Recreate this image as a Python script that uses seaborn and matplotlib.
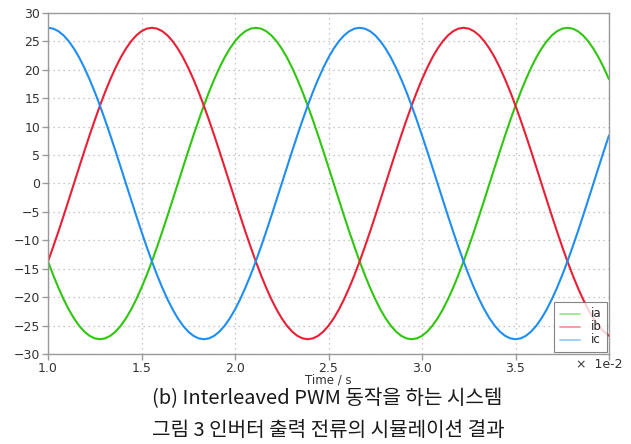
import matplotlib
matplotlib.use("Agg")
import matplotlib.pyplot as plt
import numpy as np
import pandas as pd
import seaborn as sns

# time axis in units of 1e-2 s, sampled every 6 degrees of the 60 Hz cycle
time = np.linspace(1.0, 4.0, 109)

ia = [-13.70, -16.11, -18.33, -20.36, -22.17, -23.73, -25.03, -26.06, -26.80, -27.25,
      -27.40, -27.25, -26.80, -26.06, -25.03, -23.73, -22.17, -20.36, -18.33, -16.11,
      -13.70, -11.14, -8.47, -5.70, -2.86, 0.00, 2.86, 5.70, 8.47, 11.14,
      13.70, 16.11, 18.33, 20.36, 22.17, 23.73, 25.03, 26.06, 26.80, 27.25,
      27.40, 27.25, 26.80, 26.06, 25.03, 23.73, 22.17, 20.36, 18.33, 16.11,
      13.70, 11.14, 8.47, 5.70, 2.86, 0.00, -2.86, -5.70, -8.47, -11.14,
      -13.70, -16.11, -18.33, -20.36, -22.17, -23.73, -25.03, -26.06, -26.80, -27.25,
      -27.40, -27.25, -26.80, -26.06, -25.03, -23.73, -22.17, -20.36, -18.33, -16.11,
      -13.70, -11.14, -8.47, -5.70, -2.86, 0.00, 2.86, 5.70, 8.47, 11.14,
      13.70, 16.11, 18.33, 20.36, 22.17, 23.73, 25.03, 26.06, 26.80, 27.25,
      27.40, 27.25, 26.80, 26.06, 25.03, 23.73, 22.17, 20.36, 18.33]

ib = [-13.70, -11.14, -8.47, -5.70, -2.86, 0.00, 2.86, 5.70, 8.47, 11.14,
      13.70, 16.11, 18.33, 20.36, 22.17, 23.73, 25.03, 26.06, 26.80, 27.25,
      27.40, 27.25, 26.80, 26.06, 25.03, 23.73, 22.17, 20.36, 18.33, 16.11,
      13.70, 11.14, 8.47, 5.70, 2.86, 0.00, -2.86, -5.70, -8.47, -11.14,
      -13.70, -16.11, -18.33, -20.36, -22.17, -23.73, -25.03, -26.06, -26.80, -27.25,
      -27.40, -27.25, -26.80, -26.06, -25.03, -23.73, -22.17, -20.36, -18.33, -16.11,
      -13.70, -11.14, -8.47, -5.70, -2.86, 0.00, 2.86, 5.70, 8.47, 11.14,
      13.70, 16.11, 18.33, 20.36, 22.17, 23.73, 25.03, 26.06, 26.80, 27.25,
      27.40, 27.25, 26.80, 26.06, 25.03, 23.73, 22.17, 20.36, 18.33, 16.11,
      13.70, 11.14, 8.47, 5.70, 2.86, 0.00, -2.86, -5.70, -8.47, -11.14,
      -13.70, -16.11, -18.33, -20.36, -22.17, -23.73, -25.03, -26.06, -26.80]

ic = [27.40, 27.25, 26.80, 26.06, 25.03, 23.73, 22.17, 20.36, 18.33, 16.11,
      13.70, 11.14, 8.47, 5.70, 2.86, 0.00, -2.86, -5.70, -8.47, -11.14,
      -13.70, -16.11, -18.33, -20.36, -22.17, -23.73, -25.03, -26.06, -26.80, -27.25,
      -27.40, -27.25, -26.80, -26.06, -25.03, -23.73, -22.17, -20.36, -18.33, -16.11,
      -13.70, -11.14, -8.47, -5.70, -2.86, 0.00, 2.86, 5.70, 8.47, 11.14,
      13.70, 16.11, 18.33, 20.36, 22.17, 23.73, 25.03, 26.06, 26.80, 27.25,
      27.40, 27.25, 26.80, 26.06, 25.03, 23.73, 22.17, 20.36, 18.33, 16.11,
      13.70, 11.14, 8.47, 5.70, 2.86, 0.00, -2.86, -5.70, -8.47, -11.14,
      -13.70, -16.11, -18.33, -20.36, -22.17, -23.73, -25.03, -26.06, -26.80, -27.25,
      -27.40, -27.25, -26.80, -26.06, -25.03, -23.73, -22.17, -20.36, -18.33, -16.11,
      -13.70, -11.14, -8.47, -5.70, -2.86, 0.00, 2.86, 5.70, 8.47]

names = ['ia', 'ib', 'ic']
colors = ['#2fc60f', '#ea1f35', '#1f8ef0']
x_ticks = [1.0, 1.5, 2.0, 2.5, 3.0, 3.5, 4.0]
x_labels = ['1.0', '1.5', '2.0', '2.5', '3.0', '3.5', '']
y_ticks = list(range(-30, 31, 5))

df = pd.DataFrame({
    'time': np.concatenate([time, time, time]),
    'current': ia + ib + ic,
    'phase': ['ia'] * len(ia) + ['ib'] * len(ib) + ['ic'] * len(ic),
})

sns.set_style('white')
plt.rcParams['font.family'] = ['DejaVu Sans']

fig = plt.figure(figsize=(6.31, 4.44), dpi=100)
ax = fig.add_axes([48 / 631, 1 - 354 / 444, 561 / 631, 341 / 444])

sns.lineplot(data=df, x='time', y='current', hue='phase', hue_order=names,
             palette=colors, estimator=None, sort=False, linewidth=1.5, ax=ax)

ax.set_xlim(1.0, 4.0)
ax.set_ylim(-30, 30)
ax.set_xticks(x_ticks)
ax.set_xticklabels(x_labels)
ax.set_yticks(y_ticks)
ax.grid(True, color='#b4b4b4', linestyle=(0, (1, 3)), linewidth=0.9)
for s in ax.spines.values():
    s.set_color('#9a9a9a')
    s.set_linewidth(1.0)
ax.tick_params(axis='both', direction='out', length=4.5, width=1, color='#9a9a9a',
               labelsize=9, labelcolor='#333333', left=True, bottom=True, pad=1)
ax.set_xlabel('Time / s', fontsize=8.5, color='#333333', labelpad=-1)
ax.set_ylabel('')

fig.text(576 / 631, 1 - 364 / 444, '×  1e-2', fontsize=9, color='#333333', va='center')

leg = ax.legend(loc='lower right', frameon=True, fancybox=False, fontsize=8.5,
                borderaxespad=0.2, handlelength=1.7, handleheight=0.5,
                labelspacing=0.0, borderpad=0.45, handletextpad=0.9)
leg.get_frame().set_edgecolor('#666666')
leg.get_frame().set_linewidth(0.8)
for h in leg.get_lines():
    h.set_linewidth(1.2)
    h.set_alpha(0.5)

cjk = ['Noto Sans CJK KR', 'DejaVu Sans']
fig.text(327 / 631, 1 - 399 / 444, '(b) Interleaved PWM 동작을 하는 시스템',
         fontsize=14.5, family=cjk, ha='center', va='center', color='#1a1a1a')
fig.text(328 / 631, 1 - 430 / 444, '그림 3 인버터 출력 전류의 시뮬레이션 결과',
         fontsize=14.5, family=cjk, ha='center', va='center', color='#1a1a1a')

fig.savefig('out.png', dpi=100)
